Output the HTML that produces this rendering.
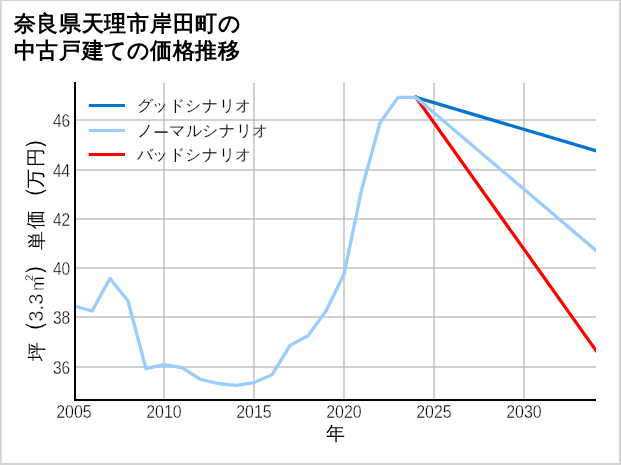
<!DOCTYPE html>
<html lang="ja">
<head>
<meta charset="utf-8">
<title>奈良県天理市岸田町の中古戸建ての価格推移</title>
<style>
html,body{margin:0;padding:0;background:#fff;}
body{width:621px;height:465px;overflow:hidden;font-family:"Liberation Sans",sans-serif;}
svg{display:block;will-change:transform;}
text{font-family:"Liberation Sans",sans-serif;}
</style>
</head>
<body>
<svg width="621" height="465" viewBox="0 0 621 465">
  <rect x="0" y="0" width="621" height="465" fill="#fff"/>
  <rect x="0" y="0" width="621" height="1" fill="#d3d3d3"/>
  <rect x="0" y="0" width="1.7" height="465" fill="#d3d3d3"/>
  <rect x="619" y="0" width="2" height="465" fill="#d3d3d3"/>
  <rect x="0" y="463" width="621" height="2" fill="#d3d3d3"/>

  <g font-weight="bold" fill="#000" stroke="#fff" stroke-width="0">
    <text x="13.60 36.32 59.04 81.76 104.48 127.20 149.92 172.64 195.36 218.08" y="31.4" font-size="21.6" >奈良県天理市岸田町の</text>
    <text x="13.60 36.32 59.04 81.76 104.48 127.20 149.92 172.64 195.36 218.08" y="58.0" font-size="21.6" >中古戸建ての価格推移</text>
  </g>
  <g stroke="#b0b0b0" stroke-opacity="0.6" stroke-width="2" fill="none">
    <line x1="164" y1="83" x2="164" y2="400"/>
    <line x1="254" y1="83" x2="254" y2="400"/>
    <line x1="344" y1="83" x2="344" y2="400"/>
    <line x1="434" y1="83" x2="434" y2="400"/>
    <line x1="524" y1="83" x2="524" y2="400"/>
    <line x1="74" y1="120.00" x2="596" y2="120.00"/>
    <line x1="74" y1="170.00" x2="596" y2="170.00"/>
    <line x1="74" y1="219.00" x2="596" y2="219.00"/>
    <line x1="74" y1="268.00" x2="596" y2="268.00"/>
    <line x1="74" y1="317.00" x2="596" y2="317.00"/>
    <line x1="74" y1="367.00" x2="596" y2="367.00"/>
  </g>
  <clipPath id="ax"><rect x="74" y="82" width="522" height="318"/></clipPath>
  <g clip-path="url(#ax)" fill="none" stroke-width="3.3" stroke-linejoin="round" stroke-linecap="square">
    <polyline stroke="#0075cc" points="416,97.4 596,150.7"/>
    <polyline stroke="#ff0000" points="416,97.4 596,350.5"/>
    <polyline stroke="#99ccff" points="74,305.8 92,311 110,278.5 128,301.0 146,368.7 164,364.6 182,367.7 200,379.2 218,383.5 236,385.4 254,382.6 272,374.8 290,345.4 308,335.8 326,310.9 344,274.2 362,188.2 380,123.0 398,97.4 416,97.4 596,250.5"/>
  </g>
  <line x1="75" y1="82" x2="75" y2="401" stroke="#000" stroke-width="2"/>
  <line x1="74" y1="400" x2="596" y2="400" stroke="#000" stroke-width="2"/>
  <g stroke-width="3.1">
    <line x1="88.8" y1="105.5" x2="125" y2="105.5" stroke="#0075cc"/>
    <line x1="88.8" y1="130.5" x2="125" y2="130.5" stroke="#99ccff"/>
    <line x1="88.8" y1="154.5" x2="125" y2="154.5" stroke="#ff0000"/>
  </g>
  <g fill="#000" stroke="#fff" stroke-width="0.15">
    <text x="136.65 152.00 168.50 185.40 201.80 218.50 235.20" y="111.02" font-size="16" >グッドシナリオ</text>
    <text x="137.20" y="136.02" font-size="16" >ノ</text><text x="153.40" y="137.62" font-size="16" >ー</text><text x="169.35" y="136.02" font-size="16" >マ</text><text x="185.90" y="136.02" font-size="16" >ル</text><text x="201.95" y="136.02" font-size="16" >シ</text><text x="219.10" y="136.02" font-size="16" >ナ</text><text x="235.70" y="136.02" font-size="16" >リ</text><text x="252.30" y="136.02" font-size="16" >オ</text>
    <text x="136.50 152.00 168.60 185.40 201.80 218.50 235.20" y="160.00" font-size="16" >バッドシナリオ</text>
  </g>
  <g font-size="18.2" fill="#000" text-anchor="end" stroke="#fff" stroke-width="0.35">
    <text x="70.2" y="126.60" textLength="17.3" lengthAdjust="spacingAndGlyphs">46</text>
    <text x="70.2" y="176.60" textLength="17.3" lengthAdjust="spacingAndGlyphs">44</text>
    <text x="70.2" y="225.60" textLength="17.3" lengthAdjust="spacingAndGlyphs">42</text>
    <text x="70.2" y="274.60" textLength="17.3" lengthAdjust="spacingAndGlyphs">40</text>
    <text x="70.2" y="323.60" textLength="17.3" lengthAdjust="spacingAndGlyphs">38</text>
    <text x="70.2" y="373.60" textLength="17.3" lengthAdjust="spacingAndGlyphs">36</text>
  </g>
  <g font-size="18.2" fill="#000" text-anchor="middle" stroke="#fff" stroke-width="0.35">
    <text x="74" y="418" textLength="35.5" lengthAdjust="spacingAndGlyphs">2005</text>
    <text x="164" y="418" textLength="35.5" lengthAdjust="spacingAndGlyphs">2010</text>
    <text x="254" y="418" textLength="35.5" lengthAdjust="spacingAndGlyphs">2015</text>
    <text x="344" y="418" textLength="35.5" lengthAdjust="spacingAndGlyphs">2020</text>
    <text x="434" y="418" textLength="35.5" lengthAdjust="spacingAndGlyphs">2025</text>
    <text x="524" y="418" textLength="35.5" lengthAdjust="spacingAndGlyphs">2030</text>
  </g>
  <text x="326.25" y="439.50" font-size="19" fill="#000" stroke="#fff" stroke-width="0">年</text>
  <g transform="rotate(-90)" fill="#000" stroke="#fff" stroke-width="0">
    <text x="-361.20" y="42.50" font-size="19" >坪</text>
    <text x="-343.60" y="42.30" font-size="24" >（</text>
    <text x="-321.70" y="43.15" font-size="20" stroke-width="0.35">3</text>
    <text x="-310.55" y="42.75" font-size="20" stroke-width="0.35">.</text>
    <text x="-304.75" y="43.15" font-size="20" stroke-width="0.35">3</text>
    <text x="-290.95" y="43.80" font-size="17.5" stroke-width="0.35">m</text>
    <text x="-280.80" y="38.40" font-size="17.5" stroke-width="0.35">²</text>
    <text x="-275.70" y="42.30" font-size="24" >）</text>
    <text x="-250.30" y="42.50" font-size="19" >単</text>
    <text x="-229.45" y="42.00" font-size="19" >価</text>
    <text x="-210.45" y="42.30" font-size="24" >（</text>
    <text x="-188.00" y="41.50" font-size="19" >万</text>
    <text x="-167.20" y="42.00" font-size="19" >円</text>
    <text x="-150.40" y="42.30" font-size="24" >）</text>
  </g>
</svg>
</body>
</html>
